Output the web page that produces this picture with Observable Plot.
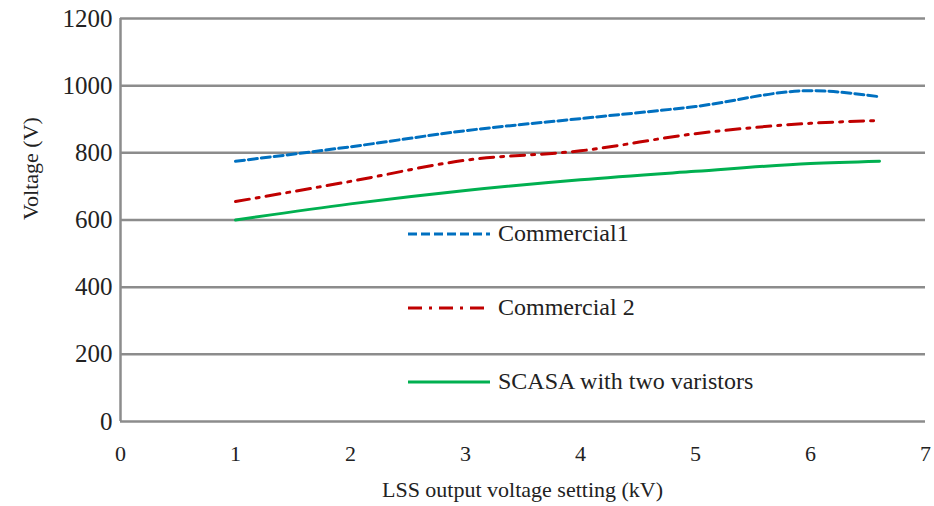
<!DOCTYPE html>
<html>
<head>
<meta charset="utf-8">
<script src="https://cdn.jsdelivr.net/npm/d3@7"></script>
<script src="https://cdn.jsdelivr.net/npm/@observablehq/plot@0.6"></script>
</head>
<body style="margin:0;padding:0;background:#fff">
<div id="wrap" style="position:relative;width:934px;height:506px;font-family:'Times New Roman','Liberation Serif',Tinos;color:#222">
  <div id="xtitle" style="box-sizing:border-box;width:934px;height:34px;padding:0 9px 0 120px;text-align:center;font-family:'Times New Roman','Liberation Serif',Tinos;font-size:22px;line-height:36px;white-space:nowrap">LSS output voltage setting (kV)</div>
</div>
<script>
// LSS output voltage setting (kV)
const setting = [1, 2, 3, 4, 5, 6, 6.6];
// Clamped voltage (V) for each protector
const commercial1 = [775, 818, 866, 902, 938, 985, 967];
const commercial2 = [655, 715, 778, 806, 857, 888, 896];
const scasa = [600, 648, 688, 720, 745, 768, 775];

const seriesNames = ["Commercial1", "Commercial 2", "SCASA with two varistors"];
const seriesValues = [commercial1, commercial2, scasa];
const seriesColors = ["#0070c0", "#c00000", "#00b050"];
const seriesDash = ["9,4", "14,7,3,7", null];

const xTicks = [0, 1, 2, 3, 4, 5, 6, 7];
const yTicks = [0, 200, 400, 600, 800, 1000, 1200];

const fontStack = "'Times New Roman', 'Liberation Serif', Tinos";

const rows = seriesNames.flatMap((name, i) =>
  setting.map((x, j) => ({series: name, x, y: seriesValues[i][j]}))
);

const lines = seriesNames.map((name, i) =>
  Plot.line(rows.filter(d => d.series === name), {
    x: "x", y: "y",
    stroke: seriesColors[i],
    strokeWidth: 3,
    strokeDasharray: seriesDash[i] ?? undefined,
    curve: "monotone-x"
  })
);

const chart = Plot.plot({
  width: 934,
  height: 472,
  marginLeft: 120,
  marginRight: 9,
  marginTop: 18,
  marginBottom: 51,
  style: {fontFamily: fontStack, color: "#222", background: "#fff", overflow: "visible", display: "block"},
  x: {domain: [0, 7], ticks: xTicks, label: null},
  y: {domain: [0, 1200], ticks: yTicks, label: null},
  marks: [
    Plot.gridY(yTicks, {stroke: "#8c8c8c", strokeOpacity: 1, strokeWidth: 2.5}),
    Plot.ruleX([0], {stroke: "#8c8c8c", strokeWidth: 2.5}),
    Plot.axisX(xTicks, {tickSize: 0, tickPadding: 24, fontSize: 22, label: null, tickFormat: d => String(d)}),
    Plot.axisY(yTicks, {tickSize: 0, tickPadding: 8, fontSize: 25, label: null, tickFormat: d => String(d)}),
    ...lines,
    Plot.text(["Voltage (V)"], {frameAnchor: "left", dx: -90, rotate: -90, fontSize: 22})
  ]
});

// Every label of the chart set in the serif face
d3.select(chart).selectAll("text, g").attr("font-family", fontStack).style("font-family", fontStack);

const wrap = document.getElementById("wrap");
wrap.insertBefore(chart, document.getElementById("xtitle"));

// Legend drawn inside the plot area
const legend = document.createElement("div");
legend.style.position = "absolute";
legend.style.left = "408px";
legend.style.top = "220px";
const gaps = [0, 74, 148];
seriesNames.forEach((name, i) => {
  const e = document.createElement("div");
  e.style.position = "absolute";
  e.style.left = "0px";
  e.style.top = gaps[i] + "px";
  e.style.whiteSpace = "nowrap";
  e.style.display = "flex";
  e.style.alignItems = "center";
  e.style.fontSize = "24px";
  e.style.fontFamily = fontStack;
  e.innerHTML = `<svg width="82" height="8" style="margin-right:8px"><line x1="0" y1="4" x2="82" y2="4" stroke="${seriesColors[i]}" stroke-width="3" ${seriesDash[i] ? `stroke-dasharray="${seriesDash[i]}"` : ""}/></svg><span>${name}</span>`;
  legend.appendChild(e);
});
wrap.appendChild(legend);
</script>
</body>
</html>
